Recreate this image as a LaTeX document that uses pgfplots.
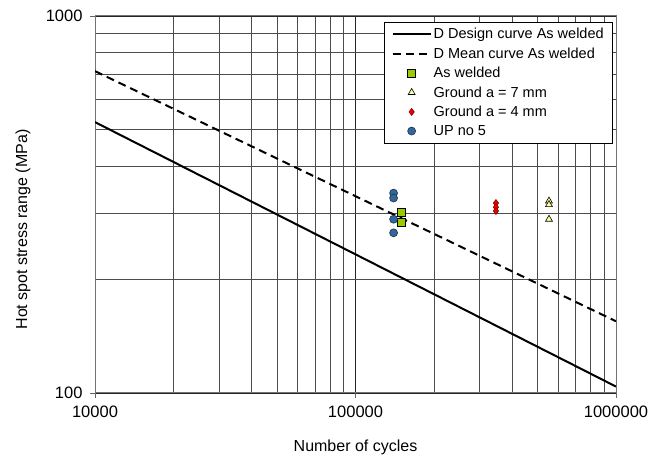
\documentclass[border=0pt]{standalone}
\usepackage{fontspec}
\setmainfont{Liberation Sans}
\usepackage{pgfplots}
\pgfplotsset{compat=1.18}
\definecolor{aw}{RGB}{153,204,0}
\definecolor{grseven}{RGB}{255,255,153}
\definecolor{grfour}{RGB}{240,0,0}
\definecolor{up}{RGB}{51,102,153}
\begin{document}
\begin{tikzpicture}
\begin{loglogaxis}[
  scale only axis, width=521pt, height=377pt,
  xmin=1e4, xmax=1e6, ymin=100, ymax=1000,
  xtick={1e4,1e5,1e6}, xticklabels={10000,100000,1000000},
  ytick={100,1000}, yticklabels={100,1000},
  minor xtick={2e4,3e4,4e4,5e4,6e4,7e4,8e4,9e4,2e5,3e5,4e5,5e5,6e5,7e5,8e5,9e5},
  minor ytick={200,300,400,500,600,700,800,900},
  grid=both,
  major grid style={black!85, line width=0.8pt},
  minor grid style={black!70, line width=0.8pt},
  tick align=outside, tick pos=left,
  major tick length=5pt, minor tick length=0pt,
  tick style={black!60, line width=0.8pt},
  axis line style={black!55, line width=1pt},
  ticklabel style={font=\fontsize{16.5}{19}\selectfont},
  xticklabel style={yshift=-4pt},
  yticklabel style={xshift=-4pt},
  label style={font=\fontsize{16}{19}\selectfont},
  xlabel={Number of cycles},
  ylabel={Hot spot stress range (MPa)},
  xlabel style={at={(axis description cs:0.5,-0.1432)}, anchor=center},
  ylabel style={at={(axis description cs:-0.1382,0.4337)}, anchor=center},
  legend style={at={(1,1)}, anchor=north east, xshift=-3pt, yshift=-6pt,
    draw=black, line width=0.6pt, fill=white,
    font=\fontsize{14.5}{17}\selectfont, row sep=3.4pt,
    inner xsep=7pt, inner ysep=4pt},
  legend cell align=left,
  legend image code/.code={\draw[mark repeat=2,mark phase=2,#1] plot coordinates {(0pt,0pt) (19pt,0pt) (38pt,0pt)};},
]
\addplot[black, line width=2pt, mark=none] coordinates {(1e4,523) (1e6,104)};
\addlegendentry{D Design curve As welded}
\addplot[black, line width=2pt, mark=none, dash pattern=on 8pt off 5pt] coordinates {(1e4,714) (1e6,155)};
\addlegendentry{D Mean curve As welded}
\addplot[only marks, mark=square*, mark size=4pt, mark options={fill=aw, draw=black, line width=0.6pt}] coordinates {(150000,301) (150000,283)};
\addlegendentry{As welded}
\addplot[only marks, mark=triangle*, mark size=4pt, mark options={fill=grseven, draw=black, line width=0.6pt}] coordinates {(553000,323) (553000,316) (553000,289)};
\addlegendentry{Ground a = 7 mm}
\addplot[only marks, mark=diamond*, mark size=3.5pt, mark options={fill=grfour, draw=red!50!black, line width=0.6pt}] coordinates {(346000,319) (346000,311) (346000,304)};
\addlegendentry{Ground a = 4 mm}
\addplot[only marks, mark=*, mark size=4pt, mark options={fill=up, draw=up!50!black, line width=0.6pt}] coordinates {(140000,339) (140000,329) (140000,289) (140000,266)};
\addlegendentry{UP no 5}
\end{loglogaxis}
\pgfresetboundingbox
\path (current axis.south west) ++(-95pt,-66pt) rectangle ([shift={(48pt,16pt)}]current axis.north east);
\end{tikzpicture}
\end{document}
